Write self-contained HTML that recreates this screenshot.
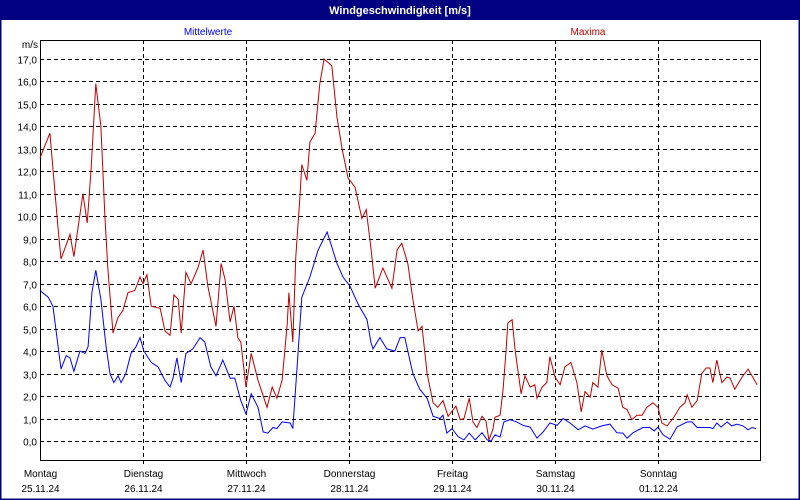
<!DOCTYPE html>
<html><head><meta charset="utf-8"><style>
html,body{margin:0;padding:0;background:#fff;}
svg{display:block;font-family:"Liberation Sans",sans-serif;}
</style></head><body>
<svg id="chart" width="800" height="500" viewBox="0 0 800 500">
<rect x="0" y="0" width="800" height="500" fill="#fff"/>
<rect x="0.5" y="0.5" width="799" height="499" fill="none" stroke="#000080" stroke-width="2"/>
<rect x="0" y="0" width="800" height="20" fill="#000080"/>
<text x="400" y="14" text-anchor="middle" fill="#fff" font-size="11" font-weight="bold">Windgeschwindigkeit [m/s]</text>
<text x="208" y="35" text-anchor="middle" fill="#0000ff" font-size="10">Mittelwerte</text>
<text x="588" y="35" text-anchor="middle" fill="#c00000" font-size="10">Maxima</text>
<text x="38" y="48" text-anchor="end" fill="#000" font-size="10">m/s</text>
<g id="grid"></g>
<g id="series"></g>
<g id="labels"></g>
</svg>
<script>
const yTicks = [0,1,2,3,4,5,6,7,8,9,10,11,12,13,14,15,16,17];
const dayNames = ["Montag","Dienstag","Mittwoch","Donnerstag","Freitag","Samstag","Sonntag"];
const dayDates = ["25.11.24","26.11.24","27.11.24","28.11.24","29.11.24","30.11.24","01.12.24"];
const maxHours = [0,2.3,4.2,4.9,7.0,7.9,10.0,11.0,11.9,13.0,14.2,15.1,15.8,17.0,18.2,19.3,20.5,22.1,23.3,24.0,24.9,25.9,28.0,29.1,30.3,31.2,32.2,32.9,34.0,35.2,36.8,38.0,39.1,41.0,42.2,43.1,44.3,45.2,46.1,46.8,48.0,49.2,50.8,52.9,54.1,55.2,56.4,57.6,58.0,58.9,59.6,60.6,61.0,62.2,62.9,64.1,65.2,66.2,68.0,69.2,70.4,71.8,73.4,75.0,76.0,77.1,78.1,79.9,82.0,83.2,84.3,85.7,86.9,88.1,89.0,90.2,91.6,92.7,93.9,95.1,96.9,97.9,98.8,100.0,100.9,101.8,103.0,103.9,104.6,105.5,106.0,107.2,107.9,108.6,109.0,110.0,110.7,112.1,113.0,114.2,115.3,115.8,117.0,118.1,118.8,120.0,121.2,122.3,123.7,125.1,126.1,127.0,128.2,128.8,130.0,130.9,132.1,133.3,134.7,135.8,136.8,137.9,139.1,140.3,141.4,142.8,144.0,144.9,146.1,147.5,149.1,150.3,150.8,151.9,153.1,154.2,155.2,156.1,156.8,157.7,158.9,160.1,160.8,161.9,163.6,165.0,167.1];
const maxValues = [12.6,13.7,9.5,8.1,9.2,8.2,11.0,9.7,12.1,15.9,14.0,10.1,7.7,4.8,5.5,5.8,6.6,6.7,7.3,7.0,7.4,6.0,5.9,4.9,4.7,6.5,6.3,4.8,7.5,7.0,7.7,8.5,6.9,5.1,7.9,7.2,5.3,6.0,4.6,4.4,2.4,3.9,2.7,1.5,2.4,1.9,2.7,5.2,6.6,4.4,8.2,11.0,12.3,11.6,13.3,13.7,15.9,17.0,16.7,14.4,13.0,11.7,11.3,9.9,10.3,8.6,6.8,7.7,6.8,8.5,8.8,7.9,6.3,4.9,5.1,3.0,1.7,1.5,1.8,1.1,1.55,0.95,1.0,1.9,0.85,0.6,1.1,0.9,0.05,0.5,1.05,1.15,2.3,4.05,5.25,5.4,4.05,2.1,2.9,2.4,2.5,1.9,2.4,2.6,3.75,2.85,2.5,3.3,3.5,2.6,1.3,2.2,1.95,2.6,2.4,4.05,2.9,2.5,2.35,1.5,1.4,0.95,1.15,1.15,1.5,1.7,1.5,0.8,0.67,1.0,1.5,1.7,2.05,1.5,1.8,3.0,3.25,3.25,2.6,3.6,2.6,2.85,2.8,2.3,2.85,3.2,2.5];
const meanHours = [0,1.9,3.0,4.9,6.1,7.0,7.9,9.3,10.5,11.2,12.1,13.0,14.2,15.4,16.3,17.2,18.2,18.9,20.0,21.2,22.4,23.3,24.2,25.9,27.5,29.1,30.3,31.0,31.9,32.9,34.0,35.6,37.3,38.4,39.8,41.0,42.6,44.3,45.4,46.8,48.0,49.2,50.8,52.0,53.1,54.3,55.2,56.4,58.3,58.9,59.9,61.0,62.9,64.8,66.9,69.2,70.6,72.2,74.1,76.2,77.1,77.6,79.2,80.8,82.7,83.9,85.0,86.9,88.5,90.2,91.6,93.2,93.9,94.8,96.0,97.4,98.8,100.0,101.4,103.0,104.2,105.1,106.0,107.2,108.1,109.5,111.1,112.5,114.2,115.8,117.2,118.8,120.5,121.9,123.5,125.4,127.0,128.8,130.9,132.8,134.4,135.8,136.8,138.2,140.5,142.1,143.1,144.0,145.2,146.8,148.4,150.8,151.9,153.1,156.1,156.8,157.7,158.7,160.1,161.2,162.4,163.8,165.0,165.9,166.8];
const meanValues = [6.7,6.4,6.0,3.2,3.8,3.7,3.1,4.0,3.9,4.2,6.6,7.6,6.3,4.2,3.0,2.6,2.9,2.6,3.0,3.9,4.2,4.6,4.0,3.5,3.3,2.7,2.4,2.8,3.7,2.6,3.9,4.1,4.6,4.4,3.3,2.9,3.6,2.8,2.8,1.8,1.2,2.1,1.5,0.4,0.35,0.6,0.55,0.85,0.8,0.55,3.3,6.4,7.3,8.5,9.3,7.9,7.3,6.9,6.1,5.4,4.4,4.1,4.6,4.1,4.0,4.6,4.6,3.0,2.3,1.9,1.1,1.0,1.15,0.35,0.55,0.2,0.05,0.35,0.05,0.37,0.05,0,0.27,0.18,0.85,0.95,0.85,0.7,0.62,0.13,0.4,0.8,0.7,1.0,0.8,0.5,0.67,0.53,0.67,0.75,0.37,0.35,0.13,0.37,0.6,0.6,0.45,0.62,0.27,0.08,0.62,0.85,0.85,0.6,0.6,0.55,0.8,0.62,0.85,0.67,0.75,0.67,0.5,0.6,0.55];

const NS = "http://www.w3.org/2000/svg";
const L = 40, R = 760, T = 40, B = 460;
const DAYPX = 103;
function xScale(h){ return L + h / 24 * DAYPX; }
function yScale(v){ return 441 - v * 22.47; }
function mk(tag, attrs, parent){ const e = document.createElementNS(NS, tag); for (const k in attrs) e.setAttribute(k, attrs[k]); parent.appendChild(e); return e; }

const grid = document.getElementById('grid');
const labels = document.getElementById('labels');
yTicks.forEach(v => {
  const y = Math.round(yScale(v)) + 0.5;
  const ln = mk('line', {x1: L, x2: R, y1: y, y2: y, stroke: '#000', 'stroke-width': 1, 'stroke-dasharray': '4,3'}, grid);
  
  
  const t = mk('text', {x: 37, y: y + 4, 'text-anchor': 'end', 'font-size': 10, fill: '#000'}, labels);
  t.textContent = v.toFixed(1).replace('.', ',');
  
  
});
dayNames.forEach((d, i) => {
  const x = Math.round(xScale(i * 24)) + 0.5;
  if (i > 0) {
    const ln = mk('line', {x1: x, x2: x, y1: T, y2: B + 6, stroke: '#000', 'stroke-width': 1, 'stroke-dasharray': '4,3'}, grid);
    
    
  }
  const t1 = mk('text', {x: x, y: 477, 'text-anchor': 'middle', 'font-size': 10, fill: '#000'}, labels);
  t1.textContent = d;
  
  
  const t2 = mk('text', {x: x, y: 492, 'text-anchor': 'middle', 'font-size': 10, fill: '#000'}, labels);
  t2.textContent = dayDates[i];
  
  
});
const frame = mk('path', {d: `M${L+0.5},${T+0.5}H${R+0.5}V${B+0.5}H${L+0.5}Z`, fill: 'none', stroke: '#000', 'stroke-width': 1}, grid);



const series = document.getElementById('series');
function line(hs, vs, color, name){
  const pts = hs.map((h, i) => xScale(h).toFixed(1) + ',' + yScale(vs[i]).toFixed(1)).join(' ');
  const p = mk('polyline', {points: pts, fill: 'none', stroke: color, 'stroke-width': 1}, series);
  
  
}
line(maxHours, maxValues, '#c00000', 'maxima-line');
line(meanHours, meanValues, '#0000ff', 'mittelwerte-line');
</script>
</body></html>
